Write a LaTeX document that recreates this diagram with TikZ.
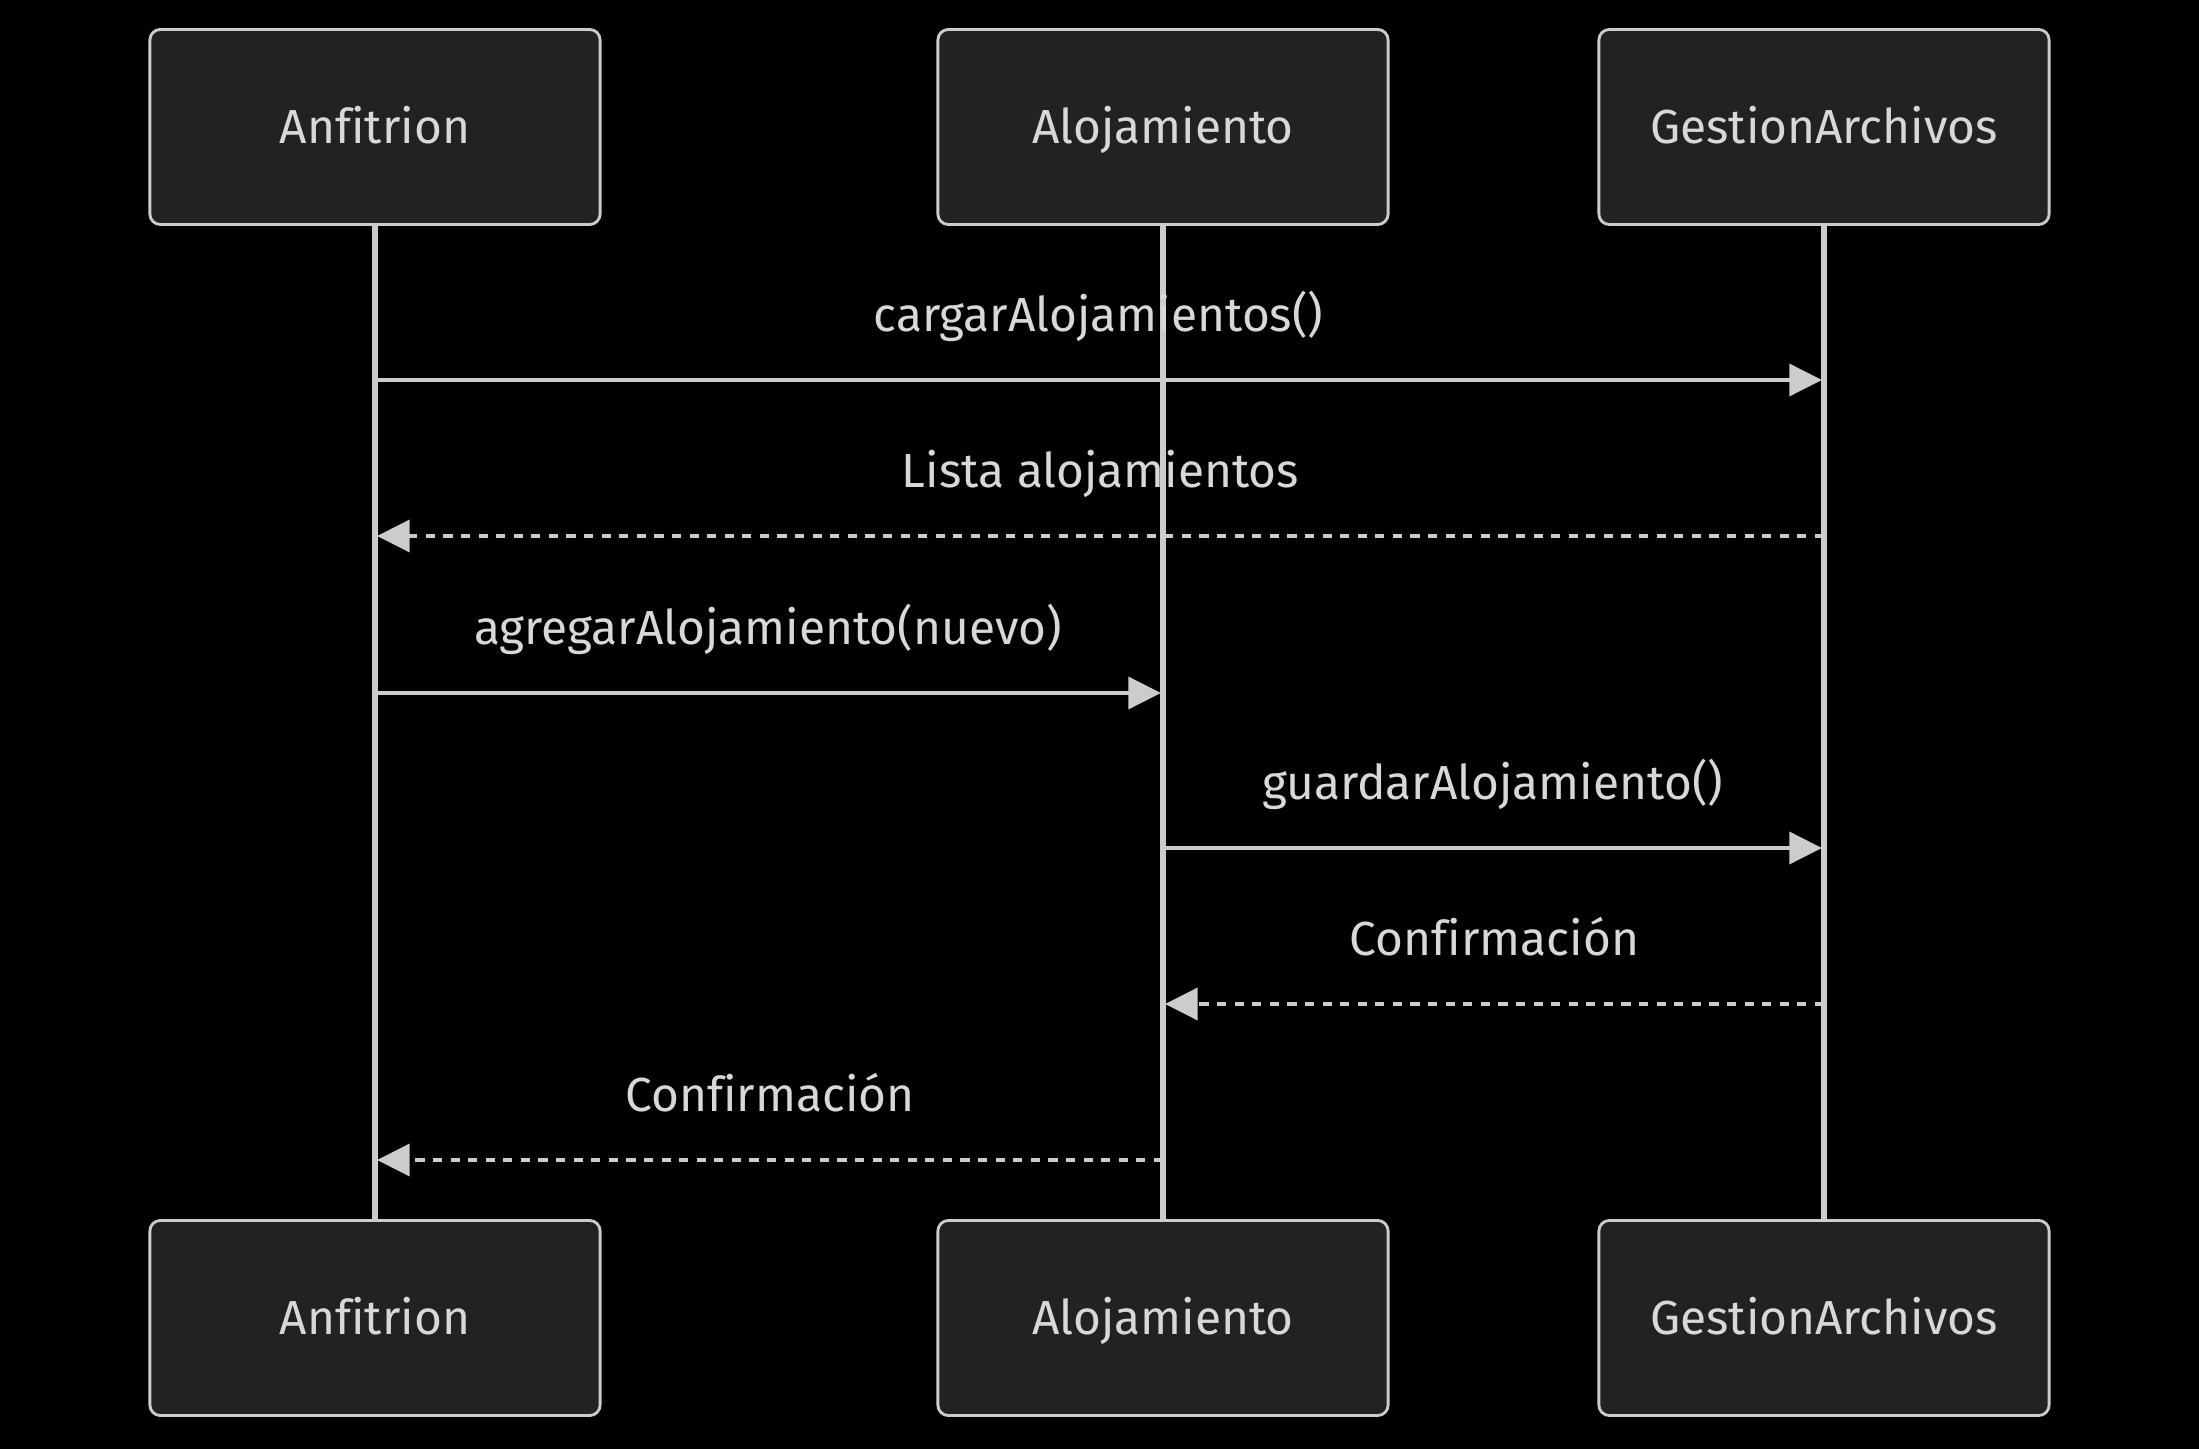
\documentclass[tikz,border=0pt]{standalone}
\usepackage{fontspec}
\setmainfont[Ligatures=NoCommon]{Fira Sans}
\usetikzlibrary{arrows.meta}
\definecolor{bgcol}{HTML}{000000}
\definecolor{boxcol}{HTML}{212222}
\definecolor{linecol}{HTML}{CCCCCC}
\definecolor{txtcol}{HTML}{D8D8D8}
\begin{document}
\begin{tikzpicture}[x=0.01cm,y=-0.01cm,
		actor/.style={draw=linecol, fill=boxcol, line width=0.8pt, rounded corners=3pt, minimum width=4.5cm, minimum height=1.95cm, text=txtcol, font=\fontsize{13.6}{16}\selectfont, text height=9.5pt, text depth=0pt},
		life/.style={draw=linecol, line width=1.5pt},
		msg/.style={draw=linecol, line width=1.4pt, -{Triangle[length=9.3pt, width=9pt]}},
		reply/.style={msg, dash pattern=on 2.6pt off 2.4pt},
		lbl/.style={text=txtcol, font=\fontsize{13.6}{16}\selectfont, anchor=base, yshift=0.485cm}]
			\fill [bgcol] (0,0) rectangle (2199,1449);
			% participants
			\node [actor] (an1) at (375,127) {Anfitrion};
			\node [actor] (al1) at (1163,127) {Alojamiento};
			\node [actor] (ga1) at (1824,127) {GestionArchivos};
			\node [actor] (an2) at (375,1318) {Anfitrion};
			\node [actor] (al2) at (1163,1318) {Alojamiento};
			\node [actor] (ga2) at (1824,1318) {GestionArchivos};
			\draw [life] (an1) -- (an2);
			\draw [life] (al1) -- (al2);
			\draw [life] (ga1) -- (ga2);
			% message ends on the lifelines
			\coordinate (an-m1) at (375,380);   \coordinate (ga-m1) at (1822,380);
			\coordinate (an-m2) at (377,536);   \coordinate (ga-m2) at (1824,536);
			\coordinate (an-m3) at (375,693);   \coordinate (al-m3) at (1161,693);
			\coordinate (al-m4) at (1163,848);  \coordinate (ga-m4) at (1822,848);
			\coordinate (al-m5) at (1165,1004); \coordinate (ga-m5) at (1824,1004);
			\coordinate (an-m6) at (377,1160);  \coordinate (al-m6) at (1163,1160);
			% messages
			\draw [msg] (an-m1) -- (ga-m1) node [lbl, midway] (t1) {cargarAlojamientos()};
			\draw [reply] (ga-m2) -- (an-m2) node [lbl, midway] (t2) {Lista alojamientos};
			\draw [msg] (an-m3) -- (al-m3) node [lbl, midway] (t3) {agregarAlojamiento(nuevo)};
			\draw [msg] (al-m4) -- (ga-m4) node [lbl, midway] (t4) {guardarAlojamiento()};
			\draw [reply] (ga-m5) -- (al-m5) node [lbl, midway] (t5) {Confirmación};
			\draw [reply] (al-m6) -- (an-m6) node [lbl, midway] (t6) {Confirmación};
		\end{tikzpicture}
\end{document}
